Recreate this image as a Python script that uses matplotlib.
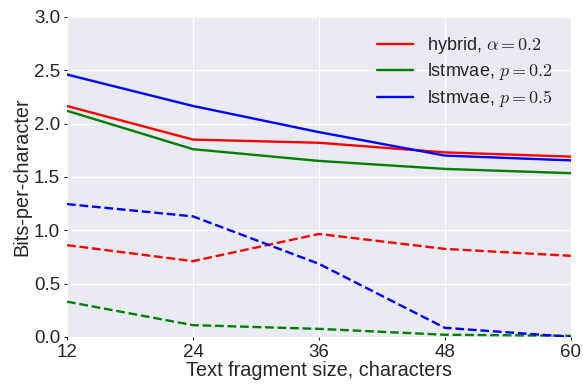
import matplotlib
matplotlib.use("Agg")
import matplotlib.pyplot as plt

plt.style.use("seaborn-v0_8-darkgrid")
plt.rcParams["font.family"] = ["Liberation Sans", "DejaVu Sans"]
plt.rcParams["mathtext.fontset"] = "cm"

sizes = [12, 24, 36, 48, 60]

hybrid_a02 = [2.165, 1.85, 1.82, 1.73, 1.69]
lstmvae_p02 = [2.12, 1.76, 1.65, 1.575, 1.535]
lstmvae_p05 = [2.46, 2.165, 1.92, 1.70, 1.655]

hybrid_a02_kl = [0.86, 0.71, 0.965, 0.825, 0.76]
lstmvae_p02_kl = [0.33, 0.11, 0.075, 0.02, 0.01]
lstmvae_p05_kl = [1.245, 1.13, 0.685, 0.085, 0.0]

fig = plt.figure(figsize=(5.83, 3.85), dpi=100)
ax = fig.add_axes([0.115, 0.125, 0.864, 0.831])

ax.plot(sizes, hybrid_a02, color="red", lw=1.7, label=r"hybrid, $\alpha=0.2$")
ax.plot(sizes, lstmvae_p02, color="green", lw=1.7, label=r"lstmvae, $p=0.2$")
ax.plot(sizes, lstmvae_p05, color="blue", lw=1.7, label=r"lstmvae, $p=0.5$")

ax.plot(sizes, hybrid_a02_kl, color="red", lw=1.7, ls="--")
ax.plot(sizes, lstmvae_p02_kl, color="green", lw=1.7, ls="--")
ax.plot(sizes, lstmvae_p05_kl, color="blue", lw=1.7, ls="--")

ax.set_xlim(12, 60)
ax.set_ylim(0, 3.0)
ax.set_xticks(sizes)
ax.set_yticks([0, 0.5, 1.0, 1.5, 2.0, 2.5, 3.0])
ax.tick_params(labelsize=13.5, colors="#262626", length=2, pad=3)
ax.set_xlabel("Text fragment size, characters", fontsize=14.3, color="#262626", labelpad=0)
ax.set_ylabel("Bits-per-character", fontsize=14.3, color="#262626", labelpad=2)
ax.legend(loc="upper right", fontsize=13, frameon=False, handlelength=2.0,
          labelspacing=0.3, borderaxespad=0.6)

fig.savefig("out.png", dpi=100)
